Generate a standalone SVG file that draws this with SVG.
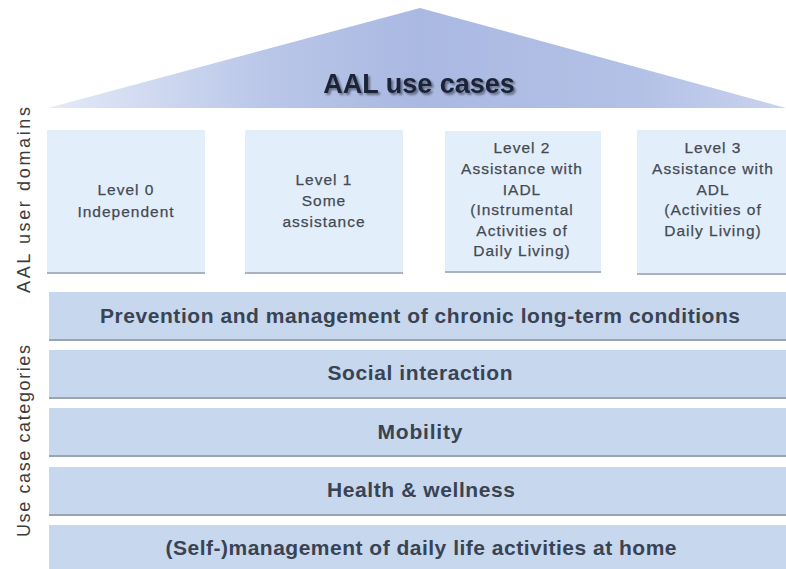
<svg xmlns="http://www.w3.org/2000/svg" width="786" height="569" viewBox="0 0 786 569">
<defs>
<linearGradient id="roof" x1="48" y1="0" x2="786" y2="0" gradientUnits="userSpaceOnUse">
<stop offset="0" stop-color="#e4eaf7"/>
<stop offset="0.3" stop-color="#b9c6e8"/>
<stop offset="0.5" stop-color="#aab9e2"/>
<stop offset="0.8" stop-color="#b3c1e6"/>
<stop offset="1" stop-color="#c9d3ee"/>
</linearGradient>
<filter id="sh" x="-10%" y="-10%" width="130%" height="140%">
<feGaussianBlur in="SourceAlpha" stdDeviation="1.2"/>
<feOffset dx="1.5" dy="1.5"/>
<feComponentTransfer><feFuncA type="linear" slope="0.45"/></feComponentTransfer>
<feMerge><feMergeNode/><feMergeNode in="SourceGraphic"/></feMerge>
</filter>
</defs>
<style>
.box{fill:#e3eefb}
.boxedge{fill:#a9b2c0}
.bar{fill:#c6d7ee}
.baredge{fill:#9aa3b1}
.bt{font-family:"Liberation Sans",Arial,sans-serif;font-size:15.5px;fill:#444a52;text-anchor:middle;letter-spacing:1px;stroke:#444a52;stroke-width:0.25px}
.bar-t{font-family:"Liberation Sans",Arial,sans-serif;font-size:21px;font-weight:bold;fill:#3a4352;text-anchor:middle}
.side{font-family:"Liberation Sans",Arial,sans-serif;font-size:18px;fill:#3c3c3c;text-anchor:middle}
</style>
<rect width="786" height="569" fill="#ffffff"/>
<g id="roof-node">
<polygon points="48,108 420,8 786,108" fill="url(#roof)"/>
<text x="419" y="93" font-family="'Liberation Sans',Arial,sans-serif" font-size="27" font-weight="bold" fill="#1a2238" text-anchor="middle" filter="url(#sh)">AAL use cases</text>
</g>
<g id="label-domains">
<text class="side" transform="translate(30,200) rotate(-90)" textLength="186" lengthAdjust="spacing">AAL user domains</text>
</g>
<g id="label-categories">
<text class="side" transform="translate(30,441) rotate(-90)" textLength="192" lengthAdjust="spacing">Use case categories</text>
</g>
<g id="level0">
<rect class="boxedge" x="47" y="130" width="158" height="144"/>
<rect class="box" x="47" y="130" width="158" height="142"/>
<text class="bt" x="126" y="195">Level 0</text>
<text class="bt" x="126" y="217">Independent</text>
</g>
<g id="level1">
<rect class="boxedge" x="245" y="130" width="158" height="144"/>
<rect class="box" x="245" y="130" width="158" height="142"/>
<text class="bt" x="324" y="185">Level 1</text>
<text class="bt" x="324" y="206">Some</text>
<text class="bt" x="324" y="227">assistance</text>
</g>
<g id="level2">
<rect class="boxedge" x="445" y="131" width="156" height="142"/>
<rect class="box" x="445" y="131" width="156" height="140"/>
<text class="bt" x="522" y="153">Level 2</text>
<text class="bt" x="522" y="174">Assistance with</text>
<text class="bt" x="522" y="195">IADL</text>
<text class="bt" x="522" y="215">(Instrumental</text>
<text class="bt" x="522" y="236">Activities of</text>
<text class="bt" x="522" y="256">Daily Living)</text>
</g>
<g id="level3">
<rect class="boxedge" x="637" y="130" width="149" height="145"/>
<rect class="box" x="637" y="130" width="149" height="143"/>
<text class="bt" x="713" y="153">Level 3</text>
<text class="bt" x="713" y="174">Assistance with</text>
<text class="bt" x="713" y="195">ADL</text>
<text class="bt" x="713" y="215">(Activities of</text>
<text class="bt" x="713" y="236">Daily Living)</text>
</g>
<g id="cat-prevention">
<rect class="baredge" x="49" y="292" width="737" height="49"/>
<rect class="bar" x="49" y="292" width="737" height="47"/>
<text class="bar-t" x="420" y="323" textLength="640" lengthAdjust="spacing">Prevention and management of chronic long-term conditions</text>
</g>
<g id="cat-social">
<rect class="baredge" x="49" y="350" width="737" height="49"/>
<rect class="bar" x="49" y="350" width="737" height="47"/>
<text class="bar-t" x="420" y="380" textLength="185" lengthAdjust="spacing">Social interaction</text>
</g>
<g id="cat-mobility">
<rect class="baredge" x="49" y="408" width="737" height="49"/>
<rect class="bar" x="49" y="408" width="737" height="47"/>
<text class="bar-t" x="420" y="439" textLength="85" lengthAdjust="spacing">Mobility</text>
</g>
<g id="cat-health">
<rect class="baredge" x="49" y="467" width="737" height="49"/>
<rect class="bar" x="49" y="467" width="737" height="47"/>
<text class="bar-t" x="421" y="497" textLength="188" lengthAdjust="spacing">Health &amp; wellness</text>
</g>
<g id="cat-self">
<rect class="bar" x="49" y="525" width="737" height="44"/>
<text class="bar-t" x="421" y="555" textLength="511" lengthAdjust="spacing">(Self-)management of daily life activities at home</text>
</g>
<g id="connectors"></g>
</svg>
